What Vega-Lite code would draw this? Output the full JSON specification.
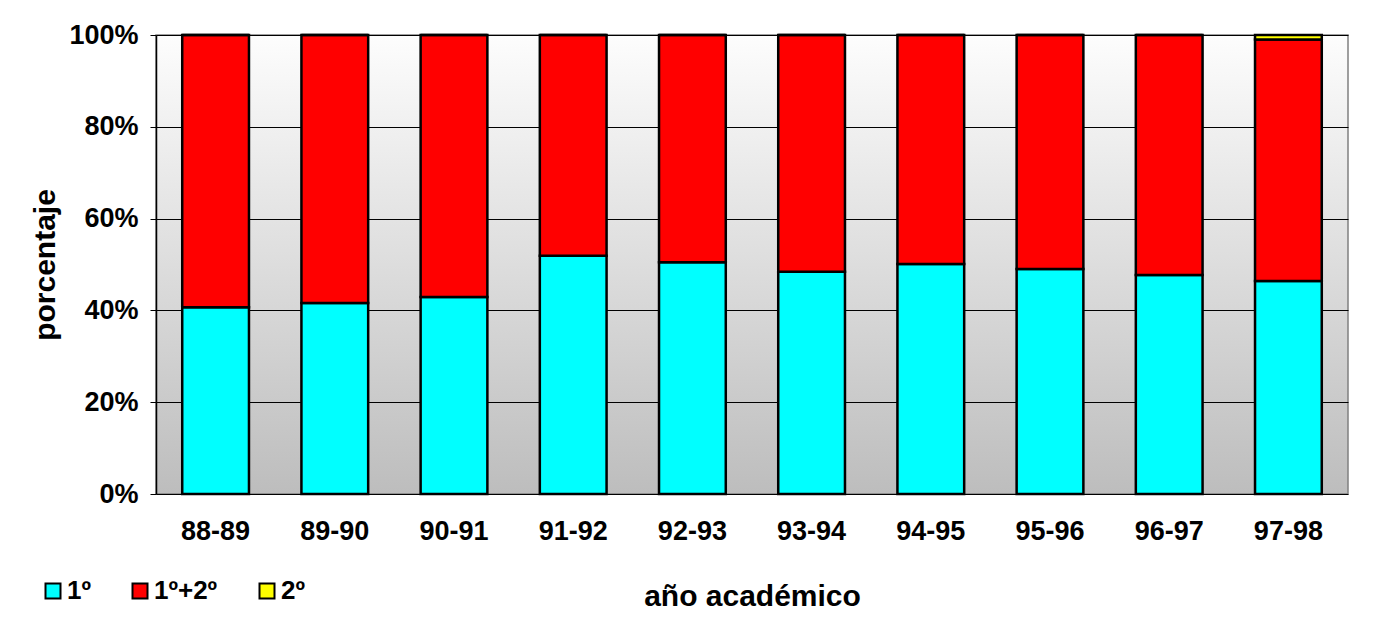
{
  "$schema": "https://vega.github.io/schema/vega-lite/v6.json",
  "width": 1192,
  "height": 459,
  "autosize": {"type": "none"},
  "padding": {"left": 156, "top": 35, "right": 27, "bottom": 138},
  "background": "white",
  "config": {
    "font": "Liberation Sans",
    "view": {
      "stroke": "#808080",
      "strokeWidth": 1.5,
      "fill": {"gradient": "linear", "x1": 0, "y1": 0, "x2": 0, "y2": 1, "stops": [{"offset": 0, "color": "#fdfdfd"}, {"offset": 1, "color": "#bdbdbd"}]}
    }
  },
  "data": {
    "values": [
      {"curso": "88-89", "tipo": "1º", "orden": 1, "pct": 40.7},
      {"curso": "88-89", "tipo": "1º+2º", "orden": 2, "pct": 59.3},
      {"curso": "88-89", "tipo": "2º", "orden": 3, "pct": 0},
      {"curso": "89-90", "tipo": "1º", "orden": 1, "pct": 41.6},
      {"curso": "89-90", "tipo": "1º+2º", "orden": 2, "pct": 58.4},
      {"curso": "89-90", "tipo": "2º", "orden": 3, "pct": 0},
      {"curso": "90-91", "tipo": "1º", "orden": 1, "pct": 42.9},
      {"curso": "90-91", "tipo": "1º+2º", "orden": 2, "pct": 57.1},
      {"curso": "90-91", "tipo": "2º", "orden": 3, "pct": 0},
      {"curso": "91-92", "tipo": "1º", "orden": 1, "pct": 51.9},
      {"curso": "91-92", "tipo": "1º+2º", "orden": 2, "pct": 48.1},
      {"curso": "91-92", "tipo": "2º", "orden": 3, "pct": 0},
      {"curso": "92-93", "tipo": "1º", "orden": 1, "pct": 50.5},
      {"curso": "92-93", "tipo": "1º+2º", "orden": 2, "pct": 49.5},
      {"curso": "92-93", "tipo": "2º", "orden": 3, "pct": 0},
      {"curso": "93-94", "tipo": "1º", "orden": 1, "pct": 48.4},
      {"curso": "93-94", "tipo": "1º+2º", "orden": 2, "pct": 51.6},
      {"curso": "93-94", "tipo": "2º", "orden": 3, "pct": 0},
      {"curso": "94-95", "tipo": "1º", "orden": 1, "pct": 50.1},
      {"curso": "94-95", "tipo": "1º+2º", "orden": 2, "pct": 49.9},
      {"curso": "94-95", "tipo": "2º", "orden": 3, "pct": 0},
      {"curso": "95-96", "tipo": "1º", "orden": 1, "pct": 49.0},
      {"curso": "95-96", "tipo": "1º+2º", "orden": 2, "pct": 51.0},
      {"curso": "95-96", "tipo": "2º", "orden": 3, "pct": 0},
      {"curso": "96-97", "tipo": "1º", "orden": 1, "pct": 47.7},
      {"curso": "96-97", "tipo": "1º+2º", "orden": 2, "pct": 52.3},
      {"curso": "96-97", "tipo": "2º", "orden": 3, "pct": 0},
      {"curso": "97-98", "tipo": "1º", "orden": 1, "pct": 46.4},
      {"curso": "97-98", "tipo": "1º+2º", "orden": 2, "pct": 52.6},
      {"curso": "97-98", "tipo": "2º", "orden": 3, "pct": 1.0}
    ]
  },
  "mark": {"type": "bar", "stroke": "black", "strokeWidth": 2.5},
  "encoding": {
    "x": {
      "field": "curso",
      "type": "nominal",
      "sort": null,
      "scale": {"paddingInner": 0.44, "paddingOuter": 0.22},
      "axis": {
        "title": "año académico",
        "titleFontSize": 30,
        "titleFontWeight": "bold",
        "titleColor": "black",
        "titlePadding": 37,
        "labelAngle": 0,
        "labelFontSize": 27,
        "labelFontWeight": "bold",
        "labelColor": "black",
        "labelPadding": 24,
        "ticks": false,
        "domain": false
      }
    },
    "y": {
      "field": "pct",
      "type": "quantitative",
      "stack": "zero",
      "scale": {"domain": [0, 100], "nice": false},
      "axis": {
        "title": "porcentaje",
        "titleFontSize": 30,
        "titleFontWeight": "bold",
        "titleColor": "black",
        "titlePadding": 8,
        "values": [0, 20, 40, 60, 80, 100],
        "labelExpr": "datum.value + '%'",
        "labelFontSize": 27,
        "labelFontWeight": "bold",
        "labelColor": "black",
        "labelPadding": 12,
        "tickColor": "black",
        "tickSize": 6,
        "domainColor": "black",
        "domainWidth": 1.5,
        "grid": true,
        "gridColor": "black",
        "gridWidth": 1
      }
    },
    "color": {
      "field": "tipo",
      "type": "nominal",
      "sort": ["1º", "1º+2º", "2º"],
      "scale": {"domain": ["1º", "1º+2º", "2º"], "range": ["#00ffff", "#ff0000", "#ffff00"]},
      "legend": {
        "title": null,
        "orient": "none",
        "legendX": -116,
        "legendY": 543,
        "direction": "horizontal",
        "symbolType": "square",
        "symbolSize": 225,
        "symbolStrokeColor": "black",
        "symbolStrokeWidth": 2,
        "symbolOpacity": 1,
        "labelFontSize": 26,
        "labelFontWeight": "bold",
        "labelColor": "black",
        "labelOffset": 1,
        "columnPadding": 36
      }
    },
    "order": {"field": "orden", "type": "quantitative"}
  }
}
